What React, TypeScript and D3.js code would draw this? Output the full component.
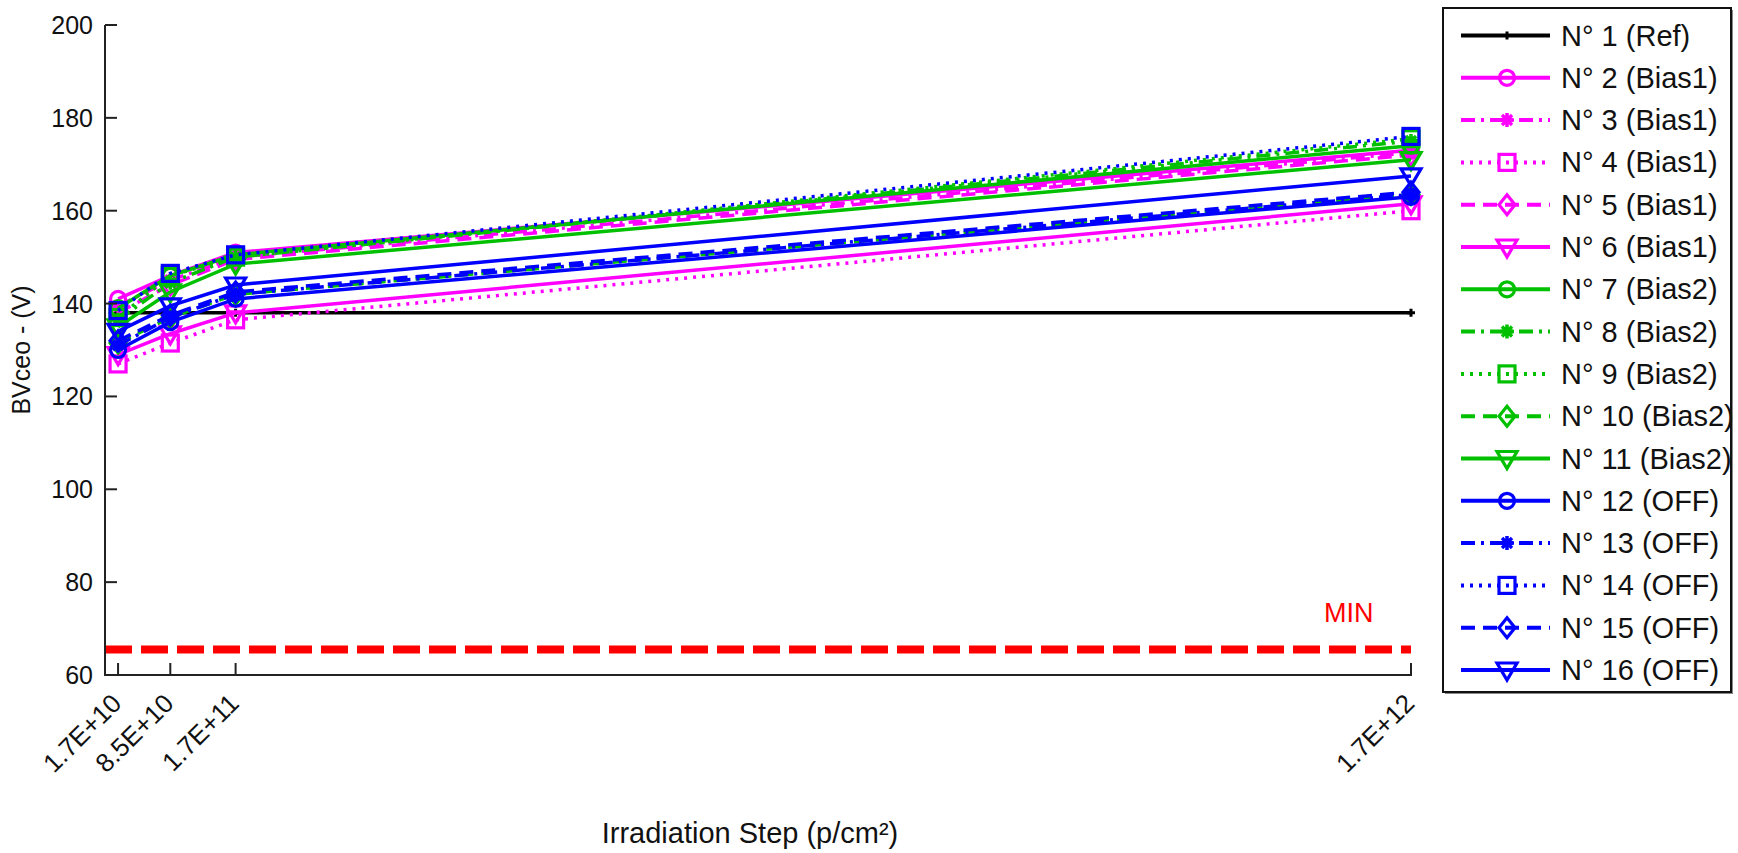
import React from 'react';
import * as d3 from 'd3';

// ---------- data ----------
const steps = [1.7e10, 8.5e10, 1.7e11, 1.7e12];
const stepLabels = ['1.7E+10', '8.5E+10', '1.7E+11', '1.7E+12'];
const yTicks = [60, 80, 100, 120, 140, 160, 180, 200];
const minLimit = 65.5;

const n1 = [138, 138, 138, 138];
const n2 = [141, 146, 151, 173];
const n3 = [139.5, 145, 150, 172.5];
const n4 = [127, 131.5, 136.5, 160];
const n5 = [138, 144, 149.5, 172];
const n6 = [129, 133.5, 138, 161.5];
const n7 = [139, 146, 150.5, 174];
const n8 = [136.5, 144.5, 150, 175];
const n9 = [137, 146, 150, 175.5];
const n10 = [131.5, 137, 142, 163.5];
const n11 = [135, 142.5, 148.5, 171];
const n12 = [130, 136, 141, 163];
const n13 = [131, 137, 142, 163.5];
const n14 = [138.5, 146.5, 150.5, 176];
const n15 = [132, 137.5, 142.5, 164];
const n16 = [134, 139.5, 144, 167.5];

const seriesNames = [
  'N° 1 (Ref)', 'N° 2 (Bias1)', 'N° 3 (Bias1)', 'N° 4 (Bias1)', 'N° 5 (Bias1)', 'N° 6 (Bias1)',
  'N° 7 (Bias2)', 'N° 8 (Bias2)', 'N° 9 (Bias2)', 'N° 10 (Bias2)', 'N° 11 (Bias2)',
  'N° 12 (OFF)', 'N° 13 (OFF)', 'N° 14 (OFF)', 'N° 15 (OFF)', 'N° 16 (OFF)',
];
const seriesValues = [n1, n2, n3, n4, n5, n6, n7, n8, n9, n10, n11, n12, n13, n14, n15, n16];

// ---------- styles ----------
const MAG = '#ff00ff';
const GRN = '#00c000';
const BLU = '#0000ff';
const DASH: Record<string, string | undefined> = {
  solid: undefined,
  dashdot: '14,6,3,6',
  dotted: '3,6',
  dashed: '14,8',
};
const styles = [
  { c: '#000', d: 'solid', m: 'dot' },
  { c: MAG, d: 'solid', m: 'circle' },
  { c: MAG, d: 'dashdot', m: 'star' },
  { c: MAG, d: 'dotted', m: 'square' },
  { c: MAG, d: 'dashed', m: 'diamond' },
  { c: MAG, d: 'solid', m: 'triangle' },
  { c: GRN, d: 'solid', m: 'circle' },
  { c: GRN, d: 'dashdot', m: 'star' },
  { c: GRN, d: 'dotted', m: 'square' },
  { c: GRN, d: 'dashed', m: 'diamond' },
  { c: GRN, d: 'solid', m: 'triangle' },
  { c: BLU, d: 'solid', m: 'circle' },
  { c: BLU, d: 'dashdot', m: 'star' },
  { c: BLU, d: 'dotted', m: 'square' },
  { c: BLU, d: 'dashed', m: 'diamond' },
  { c: BLU, d: 'solid', m: 'triangle' },
];

const W = 1738;
const H = 853;
const X0 = 105;
const X1 = 1411;
const Y0 = 675;
const Y1 = 25;
const FONT = 'Arial, "Liberation Sans", sans-serif';

function Marker({ type, x, y, color }: { type: string; x: number; y: number; color: string }) {
  const sw = 3.2;
  switch (type) {
    case 'circle':
      return <circle cx={x} cy={y} r={7.5} fill="none" stroke={color} strokeWidth={sw} />;
    case 'square':
      return <rect x={x - 8} y={y - 8} width={16} height={16} fill="none" stroke={color} strokeWidth={sw} />;
    case 'diamond':
      return (
        <path d={`M${x},${y - 10} L${x + 8},${y} L${x},${y + 10} L${x - 8},${y} Z`} fill="none" stroke={color} strokeWidth={sw} />
      );
    case 'triangle':
      return (
        <path d={`M${x - 10},${y - 7} L${x + 10},${y - 7} L${x},${y + 10} Z`} fill="none" stroke={color} strokeWidth={sw} />
      );
    case 'star': {
      const r = 7;
      const q = 5;
      return (
        <path
          d={`M${x - r},${y} L${x + r},${y} M${x},${y - r} L${x},${y + r} M${x - q},${y - q} L${x + q},${y + q} M${x - q},${y + q} L${x + q},${y - q}`}
          stroke={color}
          strokeWidth={3.5}
          fill="none"
        />
      );
    }
    case 'dot':
    default:
      return (
        <path d={`M${x - 4},${y} L${x + 4},${y} M${x},${y - 4} L${x},${y + 4}`} stroke={color} strokeWidth={3} />
      );
  }
}

export default function App() {
  const x = d3.scaleLinear().domain([0, 1.7e12]).range([X0, X1]);
  const y = d3.scaleLinear().domain([60, 200]).range([Y0, Y1]);
  const line = d3
    .line<number>()
    .x((_, i) => x(steps[i]))
    .y((v) => y(v));

  const legX = 1443;
  const legY = 8;
  const legW = 288;
  const legH = 684;
  const rowY0 = 27.5;
  const rowDy = 42.3;

  return (
    <svg
      width={W}
      height={H}
      style={{ position: 'absolute', left: 0, top: 0, background: '#fff' }}
      fontFamily={FONT}
    >
      <rect x={0} y={0} width={W} height={H} fill="#fff" />

      {/* MIN limit */}
      <line
        x1={X0}
        x2={X1}
        y1={y(minLimit)}
        y2={y(minLimit)}
        stroke="#ff0000"
        strokeWidth={8}
        strokeDasharray="27,9"
      />
      <text x={1324} y={622} fontSize={27} fill="#ff0000">
        MIN
      </text>

      {/* series */}
      {seriesValues.map((vals, i) => (
        <g key={i}>
          <path
            d={line(vals) || ''}
            fill="none"
            stroke={styles[i].c}
            strokeWidth={3.5}
            strokeDasharray={DASH[styles[i].d]}
          />
          {vals.map((v, j) => (
            <Marker key={j} type={styles[i].m} x={x(steps[j])} y={y(v)} color={styles[i].c} />
          ))}
        </g>
      ))}

      {/* axes */}
      <g stroke="#222" strokeWidth={2}>
        <line x1={X0} x2={X0} y1={Y1} y2={Y0 + 1} />
        <line x1={X0} x2={X1 + 1} y1={Y0} y2={Y0} />
        {yTicks.map((t) => (
          <line key={t} x1={X0} x2={X0 + 12} y1={y(t)} y2={y(t)} />
        ))}
        {steps.map((s) => (
          <line key={s} x1={x(s)} x2={x(s)} y1={Y0} y2={Y0 - 12} />
        ))}
      </g>
      {yTicks.map((t) => (
        <text key={t} x={X0 - 12} y={y(t)} fontSize={25} textAnchor="end" dominantBaseline="central" fill="#111">
          {t}
        </text>
      ))}
      {steps.map((s, i) => (
        <text
          key={s}
          transform={`translate(${x(s) + 5},${Y0 + 30}) rotate(-45)`}
          fontSize={26}
          textAnchor="end"
          fill="#111"
        >
          {stepLabels[i]}
        </text>
      ))}
      <text transform={`translate(30,350) rotate(-90)`} fontSize={25} textAnchor="middle" fill="#111">
        BVceo - (V)
      </text>
      <text x={750} y={843} fontSize={29} textAnchor="middle" fill="#111">
        Irradiation Step (p/cm²)
      </text>

      {/* legend */}
      <rect x={legX + 2} y={legY + 2} width={legW} height={legH} fill="#888" />
      <rect x={legX} y={legY} width={legW} height={legH} fill="#fff" stroke="#111" strokeWidth={2} />
      {seriesNames.map((name, i) => {
        const ry = legY + rowY0 + i * rowDy;
        return (
          <g key={name}>
            <line
              x1={1461}
              x2={1550}
              y1={ry}
              y2={ry}
              stroke={styles[i].c}
              strokeWidth={4}
              strokeDasharray={DASH[styles[i].d]}
            />
            <Marker type={styles[i].m} x={1507} y={ry} color={styles[i].c} />
            <text x={1561} y={ry} fontSize={29} dominantBaseline="central" fill="#111">
              {name}
            </text>
          </g>
        );
      })}
    </svg>
  );
}
